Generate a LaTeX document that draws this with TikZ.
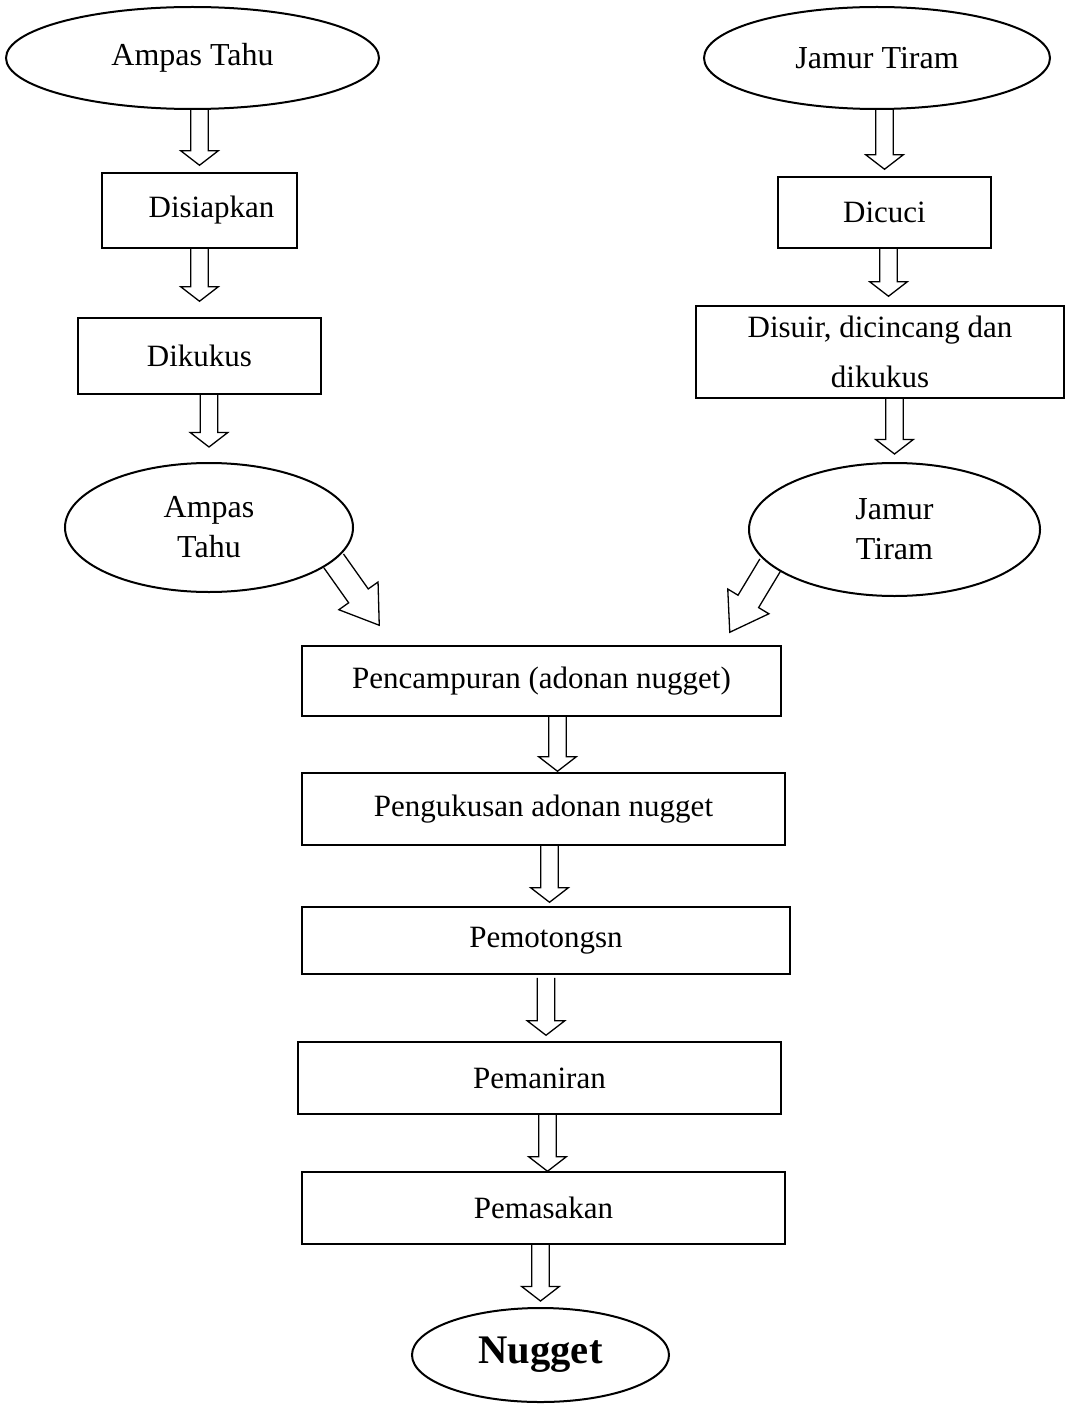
\documentclass[tikz,border=0pt]{standalone}
\usepackage{fontspec}
\setmainfont{Liberation Serif}
\usetikzlibrary{calc}
\usetikzlibrary{shapes.geometric}

%% panah blok: lebar batang, lebar sayap, panjang kepala, dari, ke
\newcommand{\panah}[5]{%
	\path (#4) coordinate (pA) (#5) coordinate (pB);
	\path ($(pB)!#3!(pA)$) coordinate (pH);
	\draw[panahblok] ($(pA)!#1!90:(pB)$) -- ($(pH)!#1!90:(pB)$) -- ($(pH)!#2!90:(pB)$) -- (pB)
		-- ($(pH)!#2!-90:(pB)$) -- ($(pH)!#1!-90:(pB)$) -- ($(pA)!#1!-90:(pB)$);
}
\newcommand{\panahtegak}[2]{\panah{4.4pt}{9.4pt}{7.25pt}{#1}{#2}}
\newcommand{\panahmiring}[2]{\panah{6pt}{12pt}{18pt}{#1}{#2}}

\begin{document}
\begin{tikzpicture}[x=0.5pt,y=-0.5pt] %% satuan piksel
	\tikzstyle{kotak}=[draw,rectangle,line width=0.75pt,inner sep=0pt,font=\fontsize{15.5pt}{20pt}\selectfont];
	\tikzstyle{lonjong}=[draw,ellipse,line width=1pt,inner sep=0pt,font=\fontsize{16pt}{20pt}\selectfont];
	\tikzstyle{panahblok}=[line width=0.65pt,line join=miter];
	\useasboundingbox (0,0) rectangle (1066,1407);
	%% bahan
	\node[lonjong,minimum width=186.5pt,minimum height=51pt] (amp1) at (192.5,58) {Ampas Tahu};
	\node[lonjong,minimum width=173pt,minimum height=51pt] (jam1) at (877,58) {Jamur Tiram};
	\node[kotak,minimum width=97.5pt,minimum height=37.5pt] (siap) at (199.5,210.5) {\hspace*{12pt}Disiapkan};
	\node[kotak,minimum width=106.5pt,minimum height=35.5pt] (cuci) at (884.5,212.5) {Dicuci};
	\node[kotak,minimum width=121.5pt,minimum height=38pt] (kukus) at (199.5,356) {Dikukus};
	\node[kotak,minimum width=184pt,minimum height=46pt,align=center,font=\fontsize{15.5pt}{25pt}\selectfont] (suir) at (880,352) {Disuir, dicincang dan\\dikukus};
	\node[lonjong,minimum width=144pt,minimum height=64.5pt,align=center] (amp2) at (209,527.5) {Ampas\\Tahu};
	\node[lonjong,minimum width=145.5pt,minimum height=66.5pt,align=center] (jam2) at (894.5,529.5) {Jamur\\Tiram};
	%% proses
	\node[kotak,minimum width=239.5pt,minimum height=35pt] (campur) at (541.5,681) {Pencampuran (adonan nugget)};
	\node[kotak,minimum width=241.5pt,minimum height=36pt] (kukusan) at (543.5,809) {Pengukusan adonan nugget};
	\node[kotak,minimum width=244pt,minimum height=33.5pt] (potong) at (546,940.5) {Pemotongsn};
	\node[kotak,minimum width=241.5pt,minimum height=36pt] (manir) at (539.5,1078) {Pemaniran};
	\node[kotak,minimum width=241.5pt,minimum height=36pt] (masak) at (543.5,1208) {Pemasakan};
	\node[lonjong,minimum width=128.5pt,minimum height=47pt,font=\fontsize{20.3pt}{24pt}\selectfont\bfseries] (nugget) at (540.5,1355) {Nugget};
	%% ujung panah miring
	\coordinate (ujungkiri) at ($(campur.north west)+(78,-20)$);
	\coordinate (ujungkanan) at ($(campur.north east)+(-52,-13)$);
	%% panah
	\panahtegak{amp1.south -| siap.north}{$(siap.north)+(0,-7)$}
	\panahtegak{jam1.south -| cuci.north}{$(cuci.north)+(0,-7)$}
	\panahtegak{siap.south}{$(siap.south |- kukus.north)+(0,-16)$}
	\panahtegak{$(cuci.south)+(4,0)$}{$(cuci.south |- suir.north)+(4,-9)$}
	\panahtegak{kukus.south -| amp2.north}{$(amp2.north)+(0,-15)$}
	\panahtegak{suir.south -| jam2.north}{$(jam2.north)+(0,-8)$}
	\panahmiring{amp2.-15}{ujungkiri}
	\panahmiring{jam2.196}{ujungkanan}
	\panahtegak{$(campur.south)+(16,0)$}{$(campur.south |- kukusan.north)+(16,-1)$}
	\panahtegak{$(kukusan.south)+(6,0)$}{$(kukusan.south |- potong.north)+(6,-4)$}
	\panahtegak{$(potong.south)+(0,3)$}{$(potong.south |- manir.north)+(0,-6)$}
	\panahtegak{$(manir.south)+(8,0)$}{$(manir.south |- masak.north)+(8,0)$}
	\panahtegak{masak.south -| nugget.north}{$(nugget.north)+(0,-6)$}
\end{tikzpicture}
\end{document}
